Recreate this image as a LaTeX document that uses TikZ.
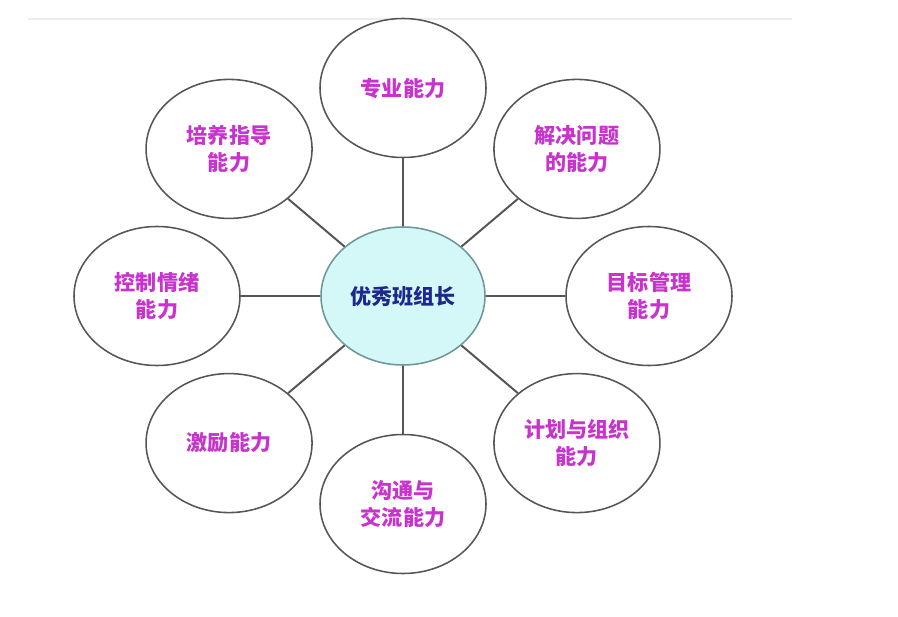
\documentclass[tikz,border=0pt]{standalone}
\usepackage{fontspec}
\newfontfamily\cjk{Noto Sans CJK SC}
\usetikzlibrary{shapes.geometric}
\definecolor{skillpink}{RGB}{200,50,205}
\definecolor{hubblue}{RGB}{30,40,140}
\definecolor{hubfill}{RGB}{212,248,248}
\definecolor{hubline}{RGB}{110,150,150}
\definecolor{rimgray}{RGB}{85,85,85}
\begin{document}
\begin{tikzpicture}[every node/.style={font=\cjk\bfseries\fontsize{15}{19}\selectfont,align=center},
  skill/.style={draw=rimgray,line width=1.1pt,ellipse,fill=white,inner sep=0pt,
    minimum width=4.15cm,minimum height=3.475cm,text=skillpink},
  hub/.style={draw=hubline,line width=1.1pt,ellipse,fill=hubfill,inner sep=0pt,
    minimum width=4.1cm,minimum height=3.45cm,text=hubblue},
  spoke/.style={draw=rimgray,line width=1.4pt}]
\useasboundingbox (0,0) rectangle (22.45,15.4);
% faint rule at the top
\draw[black!7,line width=1pt] (0.7,14.92)--(19.8,14.92);
% centre
\node[hub] (hub) at (10.075,8.0) {优秀班组长};
% skills round the centre
\foreach \a/\i/\t in {90/1/{专业能力},45/2/{解决问题\\的能力},0/3/{目标管理\\能力},
    -45/4/{计划与组织\\能力},-90/5/{沟通与\\交流能力},-135/6/{激励能力},
    180/7/{控制情绪\\能力},135/8/{培养指导\\能力}} {
  \node[skill] (c\i) at ({10.075+6.15*cos(\a)},{8.0+5.2*sin(\a)}) {\t};
  \draw[spoke] (hub)--(c\i);
}
\end{tikzpicture}
\end{document}
